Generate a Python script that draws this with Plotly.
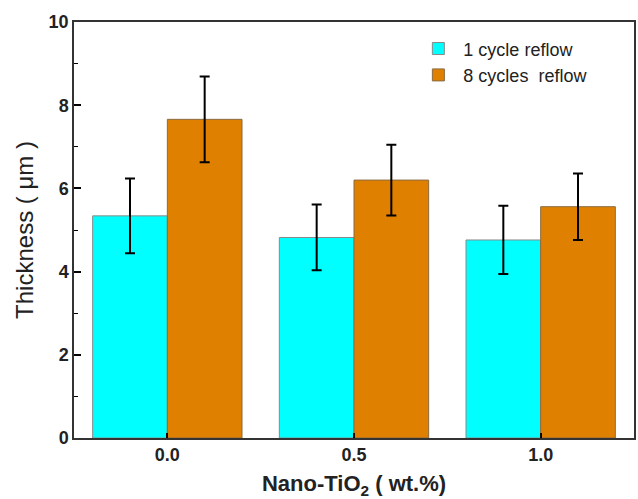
import plotly.graph_objects as go

x_vals = [0.0, 0.5, 1.0]
tick_text = ["0.0", "0.5", "1.0"]
one_cycle = [5.34, 4.82, 4.76]
one_cycle_err = [0.9, 0.79, 0.82]
eight_cycles = [7.66, 6.20, 5.56]
eight_cycles_err = [1.03, 0.85, 0.80]

font_family = "Liberation Sans, Arial, sans-serif"

fig = go.Figure()
fig.add_trace(go.Bar(
    x=x_vals, y=one_cycle, width=0.2, offset=-0.2,
    name="1 cycle reflow",
    marker=dict(color="#00FFFF", line=dict(color="#8a8a8a", width=1)),
    error_y=dict(type="data", array=one_cycle_err, color="black", thickness=2, width=5),
))
fig.add_trace(go.Bar(
    x=x_vals, y=eight_cycles, width=0.2, offset=0,
    name="8 cycles  reflow",
    marker=dict(color="#E08000", line=dict(color="#8a6a40", width=1)),
    error_y=dict(type="data", array=eight_cycles_err, color="black", thickness=2, width=5),
))

fig.update_layout(
    width=638, height=499,
    margin=dict(l=74, r=4, t=22, b=61),
    paper_bgcolor="white", plot_bgcolor="white",
    showlegend=True,
    legend=dict(x=0.606, y=0.98, xanchor="left", yanchor="top",
                font=dict(family=font_family, size=18, color="#222"),
                bgcolor="rgba(0,0,0,0)", tracegroupgap=0, itemwidth=40),
    font=dict(family=font_family, color="#222"),
)
fig.update_xaxes(
    range=[-0.25, 1.25], tickmode="array", tickvals=x_vals, ticktext=tick_text,
    ticks="inside", ticklen=5, tickwidth=2, tickcolor="black",
    showline=True, linecolor="#333", linewidth=1.5, mirror=True,
    showgrid=False, zeroline=False, automargin=False,
    tickfont=dict(family=font_family, size=18, color="#222", weight="bold"),
    title=dict(text="<b>Nano-TiO<sub>2</sub> ( wt.%)</b>", font=dict(family=font_family, size=22, color="#222"), standoff=13),
)
fig.update_yaxes(
    range=[0, 10], dtick=2, tick0=0,
    ticks="inside", ticklen=7, tickwidth=1.5, tickcolor="black",
    minor=dict(dtick=1, ticks="inside", ticklen=4, tickcolor="black", tickwidth=1),
    showline=True, linecolor="#333", linewidth=1.5, mirror=True,
    showgrid=False, zeroline=False, automargin=False,
    tickfont=dict(family=font_family, size=18, color="#222", weight="bold"),
    title=dict(text="Thickness ( \u03bcm )", font=dict(family=font_family, size=24, color="#222"), standoff=8),
)

fig.write_html("out.html", config={"displayModeBar": False},
               post_script="document.body.style.margin='0';document.body.style.padding='0';")
